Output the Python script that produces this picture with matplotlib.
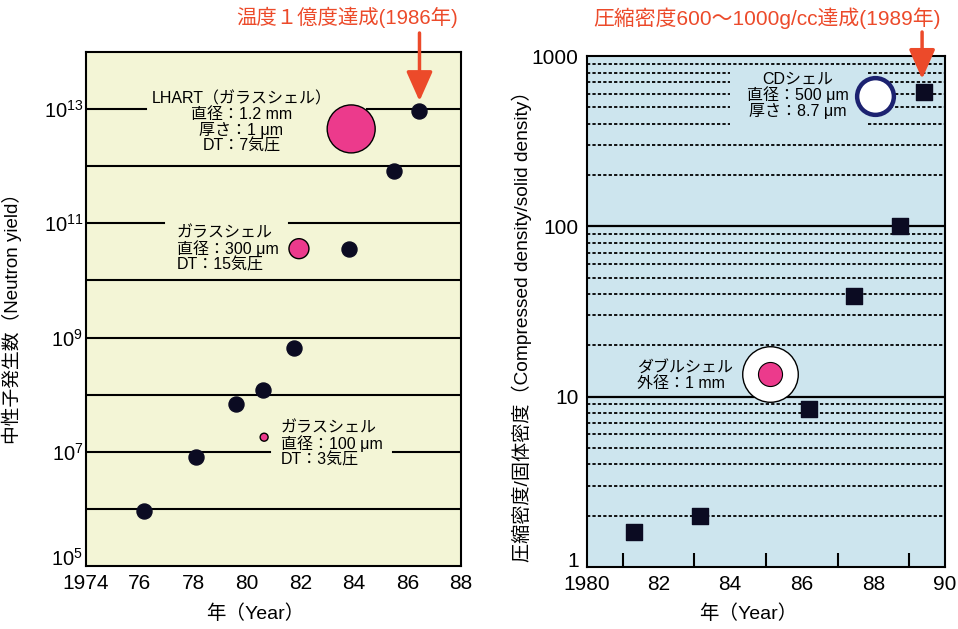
import matplotlib
matplotlib.use("Agg")
import matplotlib.pyplot as plt
from matplotlib.ticker import FixedLocator, FixedFormatter
from matplotlib.transforms import blended_transform_factory
import numpy as np

plt.rcParams['font.family'] = ['Liberation Sans', 'Noto Sans CJK JP', 'DejaVu Sans']
plt.rcParams['mathtext.fontset'] = 'custom'
plt.rcParams['mathtext.rm'] = 'Liberation Sans'
plt.rcParams['mathtext.it'] = 'Liberation Sans'

# ---------------- data: left panel (neutron yield) ----------------
yield_years = [1976.15, 1978.1, 1979.6, 1980.6, 1981.75, 1983.8, 1985.5, 1986.45]
yield_values = [9.3e5, 8.1e6, 6.9e7, 1.23e8, 6.5e8, 3.6e10, 8.1e11, 9.3e12]
glass_years = [1983.9, 1981.95, 1980.65]
glass_values = [4.5e12, 3.6e10, 1.8e7]
glass_sizes = [1194, 207, 33]
left_xtick_vals = [1974, 1976, 1978, 1980, 1982, 1984, 1986, 1988]
left_xtick_labels = ['1974', '76', '78', '80', '82', '84', '86', '88']
left_ytick_exps = [5, 7, 9, 11, 13]
left_grid_exps = [6, 7, 8, 9, 10, 11, 12, 13]

# ---------------- data: right panel (compression) ----------------
dens_years = [1981.3, 1983.15, 1986.2, 1987.45, 1988.75, 1989.4]
dens_values = [1.6, 2.0, 8.5, 39, 100, 615]
double_year, double_value = 1985.1, 13.5
cd_year, cd_value = 1988.05, 580
right_xtick_vals = [1980, 1982, 1984, 1986, 1988, 1990]
right_xtick_labels = ['1980', '82', '84', '86', '88', '90']
right_ytick_vals = [1, 10, 100, 1000]
right_ytick_labels = ['1', '10', '100', '1000']

RED = '#ec4a2a'
PINK = '#ec3a8c'
DOT = '#0b0b22'
NAVY = '#1c2270'
BG_L = '#f3f5d6'
BG_R = '#cde5ee'
ANN_FS = 11.5
LS = 1.0

fig = plt.figure(figsize=(9.58, 6.29), dpi=100)
W, H = 958, 629

def px_axes(l, t, r, b):
    return fig.add_axes([l / W, 1 - b / H, (r - l) / W, (b - t) / H])

# ======================= LEFT =======================
ax = px_axes(86, 52, 461, 566)
ax.set_facecolor(BG_L)
ax.set_yscale('log')
ax.set_xlim(1974, 1988)
ax.set_ylim(1e5, 1e14)

# horizontal decade lines with gaps behind labels
gaps = {13: (1976.24, 1984.49), 11: (1976.9, 1981.57), 7: (1980.87, 1985.46)}
for e in left_grid_exps:
    y = 10.0 ** e
    if e in gaps:
        a, b = gaps[e]
        ax.plot([1974, a], [y, y], color='black', lw=1.5, zorder=1)
        ax.plot([b, 1988], [y, y], color='black', lw=1.5, zorder=1)
    else:
        ax.plot([1974, 1988], [y, y], color='black', lw=1.5, zorder=1)

ax.scatter(yield_years, yield_values, s=117, color=DOT, zorder=3)
ax.scatter(glass_years, glass_values, s=glass_sizes, color=PINK,
           edgecolor='black', linewidth=1.0, zorder=3)

ax.text(1979.8, 10 ** 12.77, 'LHART（ガラスシェル）\n直径：1.2 mm\n厚さ：1 μm\nDT：7気圧',
        ha='center', va='center', multialignment='center', fontsize=ANN_FS,
        linespacing=LS, zorder=4)
ax.text(1977.4, 10 ** 10.56, 'ガラスシェル\n直径：300 μm\nDT：15気圧',
        ha='left', va='center', fontsize=ANN_FS, linespacing=LS, zorder=4)
ax.text(1981.28, 10 ** 7.14, 'ガラスシェル\n直径：100 μm\nDT：3気圧',
        ha='left', va='center', fontsize=ANN_FS, linespacing=LS, zorder=4)

ax.xaxis.set_major_locator(FixedLocator(left_xtick_vals))
ax.xaxis.set_major_formatter(FixedFormatter(left_xtick_labels))
ax.xaxis.set_minor_locator(FixedLocator(left_xtick_vals[1:-1]))
ax.tick_params(axis='x', which='major', length=0, labelsize=15, pad=6)
ax.tick_params(axis='x', which='minor', direction='in', length=13, width=1.5)
ax.yaxis.set_major_locator(FixedLocator([10.0 ** e for e in left_ytick_exps]))
ax.yaxis.set_major_formatter(FixedFormatter(
    [r'$\mathregular{10^{%d}}$' % e for e in left_ytick_exps]))
ax.yaxis.set_minor_locator(FixedLocator([]))
ax.tick_params(axis='y', which='major', length=0, labelsize=14.5, pad=2)
for s in ax.spines.values():
    s.set_linewidth(1.5)

ax.set_xlabel('年（Year）', fontsize=14)
ax.xaxis.set_label_coords(0.45, -0.074)
ax.set_ylabel('中性子発生数（Neutron yield）', fontsize=13.5)
ax.yaxis.set_label_coords(-0.17, 0.49)

ax.annotate('', xy=(1986.45, 10 ** 13.14), xycoords='data',
            xytext=(1986.45, H - 33), textcoords=('data', 'figure pixels'),
            arrowprops=dict(arrowstyle='-|>,head_length=0.9,head_width=0.4',
                            color=RED, lw=2.5, mutation_scale=20,
                            shrinkA=0, shrinkB=0),
            annotation_clip=False)
ax.text(1983.74, 1 - 17 / H, '温度１億度達成(1986年)', color=RED, fontsize=14.7,
        ha='center', va='center',
        transform=blended_transform_factory(ax.transData, fig.transFigure))

# ======================= RIGHT =======================
bx = px_axes(587, 56, 945, 567)
bx.set_facecolor(BG_R)
bx.set_yscale('log')
bx.set_xlim(1980, 1990)
bx.set_ylim(1, 1000)

dot_style = dict(color='black', lw=1.3, linestyle=(0, (1.8, 1.2)), zorder=1)
for dec in [1, 10, 100]:
    for m in range(2, 10):
        y = dec * m
        if dec == 100 and 4 <= m <= 8:
            bx.plot([1980, 1984.0], [y, y], **dot_style)
            bx.plot([1987.85, 1990], [y, y], **dot_style)
        else:
            bx.plot([1980, 1990], [y, y], **dot_style)
for y in [10, 100]:
    bx.plot([1980, 1990], [y, y], color='black', lw=1.6, zorder=1)

bx.scatter(dens_years, dens_values, s=125, marker='s', color=DOT, zorder=3)
bx.scatter([double_year], [double_value], s=1600, color='white',
           edgecolor='black', linewidth=1.0, zorder=3)
bx.scatter([double_year], [double_value], s=300, color=PINK,
           edgecolor='black', linewidth=0.8, zorder=4)
bx.scatter([cd_year], [cd_value], s=700, facecolor='white',
           edgecolor=NAVY, linewidth=3.2, zorder=3)

bx.text(1981.4, 13.3, 'ダブルシェル\n外径：1 mm', ha='left', va='center',
        fontsize=ANN_FS, linespacing=LS, zorder=4)
bx.text(1985.89, 589, 'CDシェル\n直径：500 μm\n厚さ：8.7 μm', ha='center',
        va='center', multialignment='center', fontsize=ANN_FS, linespacing=LS,
        zorder=4)

bx.xaxis.set_major_locator(FixedLocator(right_xtick_vals))
bx.xaxis.set_major_formatter(FixedFormatter(right_xtick_labels))
bx.xaxis.set_minor_locator(FixedLocator(list(range(1981, 1990))))
bx.tick_params(axis='x', which='major', length=0, labelsize=15, pad=6)
bx.tick_params(axis='x', which='minor', direction='in', length=10, width=1.5)
bx.yaxis.set_major_locator(FixedLocator(right_ytick_vals))
bx.yaxis.set_major_formatter(FixedFormatter(right_ytick_labels))
bx.yaxis.set_minor_locator(FixedLocator([]))
bx.tick_params(axis='y', which='major', length=0, labelsize=15, pad=6)
for s in bx.spines.values():
    s.set_linewidth(1.5)

bx.set_xlabel('年（Year）', fontsize=14)
bx.xaxis.set_label_coords(0.45, -0.074)
bx.set_ylabel('圧縮密度/固体密度（Compressed density/solid density）', fontsize=13.8)
bx.yaxis.set_label_coords(-0.155, 0.48)

bx.annotate('', xy=(1989.36, 733), xycoords='data',
            xytext=(1989.36, H - 32), textcoords=('data', 'figure pixels'),
            arrowprops=dict(arrowstyle='-|>,head_length=0.9,head_width=0.4',
                            color=RED, lw=2.5, mutation_scale=20,
                            shrinkA=0, shrinkB=0),
            annotation_clip=False)
bx.text(1985.03, 1 - 18 / H, '圧縮密度600～1000g/cc達成(1989年)', color=RED,
        fontsize=15, ha='center', va='center',
        transform=blended_transform_factory(bx.transData, fig.transFigure))

# lowest y tick labels sit on the axis bottom, just above the x tick labels
fig.canvas.draw()
for a in (ax, bx):
    a.yaxis.get_major_ticks()[0].label1.set_verticalalignment('baseline')

fig.savefig('out.png', dpi=100)
